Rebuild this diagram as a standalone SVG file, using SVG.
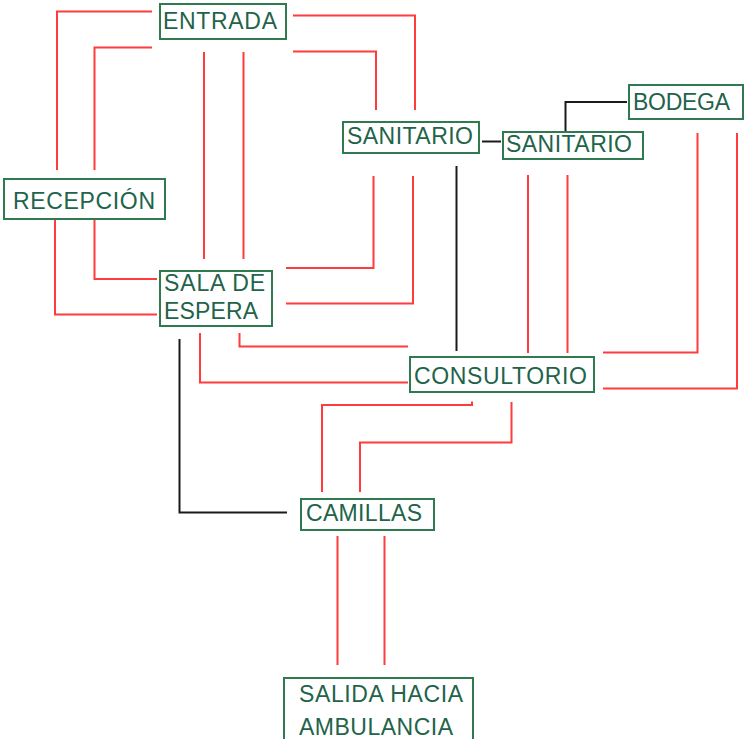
<svg xmlns="http://www.w3.org/2000/svg" width="744" height="739" viewBox="0 0 744 739">
<style>
.box{fill:#fff;stroke:#2f7a4e;stroke-width:2}
.t{font-family:"Liberation Sans",Arial,sans-serif;font-size:23px;fill:#22634a}
.r{fill:none;stroke:#ff3b3b;stroke-width:2}
.k{fill:none;stroke:#1a1a1a;stroke-width:2}
</style>
<rect width="744" height="739" fill="#fff"/>
<g id="connectors">
<path class="r" d="M152,11.5 H57 V170"/>
<path class="r" d="M152,47.5 H94.5 V170"/>
<path class="r" d="M204,52 V259"/>
<path class="r" d="M243.5,52 V259"/>
<path class="r" d="M293,15.5 H415 V110"/>
<path class="r" d="M293,51.5 H376 V110"/>
<path class="r" d="M373.5,176 V268 H286"/>
<path class="r" d="M413,176 V303.5 H286"/>
<path class="r" d="M55,219 V314.5 H157"/>
<path class="r" d="M94.5,219 V279 H157"/>
<path class="r" d="M200,333 V382.5 H408"/>
<path class="r" d="M239.5,333 V346.5 H408"/>
<path class="r" d="M528,175 V353"/>
<path class="r" d="M567.5,175 V353"/>
<path class="r" d="M603,352.5 H697.5 V133"/>
<path class="r" d="M603,388.5 H737 V133"/>
<path class="r" d="M472,401.5 V405 H322 V492"/>
<path class="r" d="M511.5,402 V442.5 H360 V492"/>
<path class="r" d="M337.5,536 V665"/>
<path class="r" d="M384.5,536 V665"/>
<path class="k" d="M482,141.5 H501"/>
<path class="k" d="M565.5,132 V102 H627"/>
<path class="k" d="M456.5,166 V351"/>
<path class="k" d="M179.5,339 V512.5 H287"/>
</g>
<g id="entrada"><rect class="box" x="160" y="4" width="126" height="35"/><text class="t" x="163" y="29" textLength="114">ENTRADA</text></g>
<g id="sanitario1"><rect class="box" x="343" y="122" width="136" height="31"/><text class="t" x="347" y="143.5" textLength="126">SANITARIO</text></g>
<g id="sanitario2"><rect class="box" x="503" y="132" width="140" height="27"/><text class="t" x="506" y="152" textLength="126">SANITARIO</text></g>
<g id="bodega"><rect class="box" x="629" y="85" width="114" height="34"/><text class="t" x="633" y="110" textLength="97">BODEGA</text></g>
<g id="recepcion"><rect class="box" x="4" y="179" width="161" height="40"/><text class="t" x="13" y="208.5" textLength="142">RECEPCIÓN</text></g>
<g id="sala-espera"><rect class="box" x="160" y="271" width="112" height="55"/><text class="t" x="164" y="291" textLength="101">SALA DE</text><text class="t" x="164" y="319" textLength="94">ESPERA</text></g>
<g id="consultorio"><rect class="box" x="410" y="357" width="184" height="35"/><text class="t" x="414" y="383.5" textLength="173">CONSULTORIO</text></g>
<g id="camillas"><rect class="box" x="301" y="499" width="133" height="31"/><text class="t" x="306" y="521" textLength="116">CAMILLAS</text></g>
<g id="salida"><rect class="box" x="284" y="678" width="189" height="70"/><text class="t" x="299" y="702" textLength="164">SALIDA HACIA</text><text class="t" x="299" y="735" textLength="154">AMBULANCIA</text></g>
</svg>
